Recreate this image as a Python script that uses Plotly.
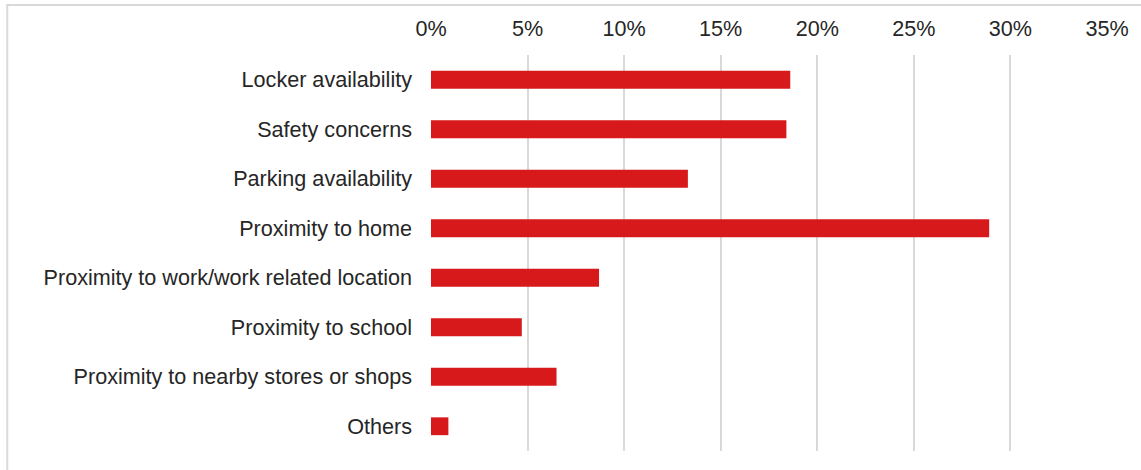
import plotly.graph_objects as go

categories = [
    "Locker availability",
    "Safety concerns",
    "Parking availability",
    "Proximity to home",
    "Proximity to work/work related location",
    "Proximity to school",
    "Proximity to nearby stores or shops",
    "Others",
]
shares = [18.6, 18.4, 13.3, 28.9, 8.7, 4.7, 6.5, 0.9]
tick_values = [0, 5, 10, 15, 20, 25, 30, 35]
tick_labels = ["0%", "5%", "10%", "15%", "20%", "25%", "30%", "35%"]

W, H = 1141, 470
L, R, T, B = 431, 32, 55, 19
pw, ph = W - L - R, H - T - B

fig = go.Figure(
    go.Bar(
        x=shares,
        y=categories,
        orientation="h",
        marker=dict(color="#D7191C", line=dict(width=0)),
        hovertemplate="%{y}: %{x}%<extra></extra>",
    )
)

def px_x(p):
    return (p - L) / pw

def px_y(p):
    return (H - B - p) / ph

# light frame around the chart area (left and top edges visible)
fig.add_shape(
    type="rect", xref="paper", yref="paper",
    x0=px_x(6), x1=px_x(W + 20), y0=px_y(H + 20), y1=px_y(5),
    line=dict(color="#D9D9D9", width=2), layer="below",
)

fig.update_layout(
    width=W, height=H,
    margin=dict(l=L, r=R, t=T, b=B),
    paper_bgcolor="white", plot_bgcolor="white",
    font=dict(family="Liberation Sans, Arial, sans-serif", size=21.6, color="#262626"),
    bargap=0.64,
    showlegend=False,
    xaxis=dict(
        side="top",
        range=[0, 35],
        tickvals=tick_values,
        ticktext=tick_labels,
        showgrid=True, gridcolor="#D9D9D9", gridwidth=2,
        zeroline=False, showline=False, ticks="",
        ticklabelstandoff=14,
    ),
    yaxis=dict(
        categoryorder="array",
        categoryarray=categories[::-1],
        showgrid=False, zeroline=False, showline=False,
        ticks="", ticklabelstandoff=18,
    ),
)

fig.write_html("out.html")
